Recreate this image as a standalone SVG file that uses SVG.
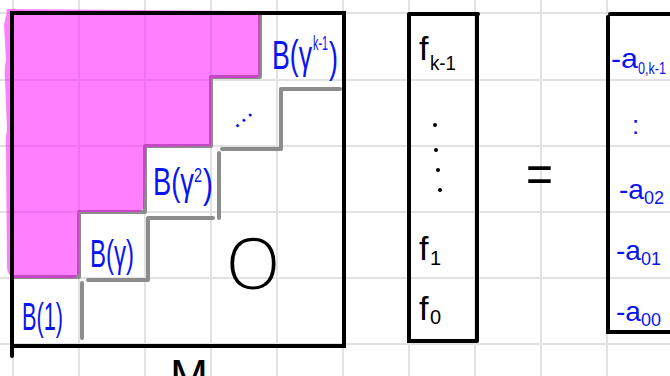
<svg xmlns="http://www.w3.org/2000/svg" width="670" height="376" viewBox="0 0 670 376">
<style>
.grid{stroke:#e2e2e2;stroke-width:2}
.gray{stroke:#8c8c8c;stroke-width:4;fill:none;stroke-linecap:round;stroke-linejoin:round}
.box{stroke:#000;stroke-width:4;fill:none;stroke-linecap:round}
.blue{fill:#0a14f0;font-family:"Liberation Sans",sans-serif}
.ink{fill:#000;font-family:"Liberation Sans",sans-serif}
</style>
<rect width="670" height="376" fill="#fff"/>
<g id="grid">
<path class="grid" d="M13 0V376M79 0V376M145 0V376M211 0V376M277 0V376M343 0V376M409 0V376M475 0V376M541 0V376M607 0V376M0 13H670M0 80H670M0 146H670M0 212H670M0 278H670M0 344H670"/>
</g>
<g id="matrix">
<path class="gray" d="M260 13V77H211V146H145V212H79V277H12"/>
<path class="gray" d="M340 89H281V149H222M219 153V218M213 218H148V280H88M82 283V338"/>
<path d="M7 11Q5 10 8 9L255 11Q261 12 260 20L260 72Q260 78 254 78L211 78L211 146L146 147L144 206Q143 212 136 212L79 212L79 272Q78 278 71 278L14 278Q8 276 7 268L6 150Q5 140 7 130L5 80Q4 70 6 60L4 25Z" fill="#ff00ff" fill-opacity="0.5"/>
<path class="box" d="M12 356V13H344V346H12"/>
<text class="blue" x="272" y="69" font-size="40" textLength="40" lengthAdjust="spacingAndGlyphs">B(γ</text>
<text class="blue" x="313" y="50" font-size="21" textLength="15" lengthAdjust="spacingAndGlyphs">k-1</text>
<text class="blue" x="329" y="72" font-size="42" textLength="9" lengthAdjust="spacingAndGlyphs">)</text>
<text class="blue" x="228" y="125" font-size="26" transform="rotate(-40 238 118)">…</text>
<text class="blue" x="153" y="195" font-size="38" textLength="41" lengthAdjust="spacingAndGlyphs">B(γ</text>
<text class="blue" x="194" y="182" font-size="20" textLength="8" lengthAdjust="spacingAndGlyphs">2</text>
<text class="blue" x="203" y="198" font-size="40" textLength="10" lengthAdjust="spacingAndGlyphs">)</text>
<text class="blue" x="90" y="267" font-size="38" textLength="44" lengthAdjust="spacingAndGlyphs">B(γ)</text>
<text class="blue" x="22" y="330" font-size="38" textLength="41" lengthAdjust="spacingAndGlyphs">B(1)</text>
<text class="ink" x="226" y="289" font-size="70" font-weight="300" textLength="54" lengthAdjust="spacingAndGlyphs" style="font-family:'Open Sans',sans-serif">O</text>
<text class="ink" x="170" y="391" font-size="44" textLength="38" lengthAdjust="spacingAndGlyphs">M</text>
</g>
<g id="vector-f">
<path class="box" d="M409 14H478M409 14V341H477M477 14V341"/>
<text class="ink" x="419" y="60" font-size="34">f</text>
<text class="ink" x="430" y="70" font-size="20" textLength="26" lengthAdjust="spacingAndGlyphs">k-1</text>
<circle cx="435" cy="125" r="2" fill="#000"/>
<circle cx="436" cy="150" r="2" fill="#000"/>
<circle cx="438" cy="170" r="2" fill="#000"/>
<circle cx="440" cy="190" r="2" fill="#000"/>
<text class="ink" x="419" y="260" font-size="34">f</text>
<text class="ink" x="430" y="265" font-size="20">1</text>
<text class="ink" x="419" y="320" font-size="34">f</text>
<text class="ink" x="430" y="324" font-size="20">0</text>
</g>
<g id="equals">
<text class="ink" x="526" y="192" font-size="52" textLength="27" lengthAdjust="spacingAndGlyphs">=</text>
</g>
<g id="vector-a">
<path class="box" d="M608 17V332H670M610 14H670"/>
<text class="blue" x="611" y="68" font-size="28" textLength="27" lengthAdjust="spacingAndGlyphs">-a</text>
<text class="blue" x="638" y="74" font-size="16" textLength="28" lengthAdjust="spacingAndGlyphs">0,k-1</text>
<text class="blue" x="632" y="134" font-size="26">:</text>
<text class="blue" x="619" y="199" font-size="28">-a</text>
<text class="blue" x="644" y="204" font-size="18">02</text>
<text class="blue" x="616" y="260" font-size="28">-a</text>
<text class="blue" x="641" y="265" font-size="18">01</text>
<text class="blue" x="616" y="321" font-size="28">-a</text>
<text class="blue" x="641" y="326" font-size="18">00</text>
</g>
</svg>
